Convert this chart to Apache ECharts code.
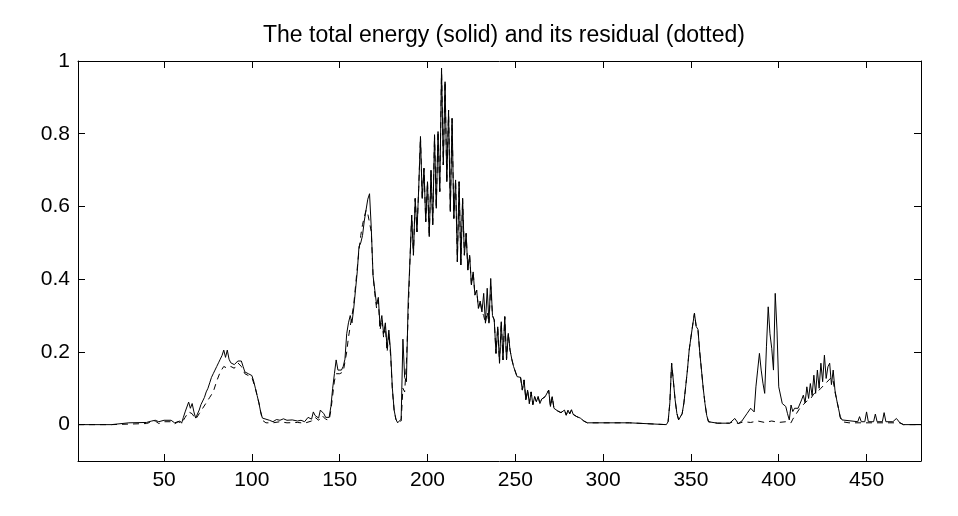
<!DOCTYPE html>
<html>
<head>
<meta charset="utf-8">
<script src="https://cdn.jsdelivr.net/npm/echarts@6/dist/echarts.min.js"></script>
<style>
  html, body { margin: 0; padding: 0; background: #fff; }
  #main { width: 958px; height: 516px; }
</style>
</head>
<body>
<div id="main"></div>
<script>
var totalX = [
  1, 20, 21, 30, 40, 43, 45, 47, 50, 54,
  56, 57, 59, 60, 61, 62, 63, 64, 65, 66,
  67, 68, 69, 70, 71, 72, 73, 74, 75, 76,
  77, 78, 79, 80, 81, 82, 83, 84, 85, 86,
  87, 88, 89, 90, 91, 92, 93, 94, 95, 96,
  97, 98, 99, 100, 101, 102, 103, 104, 105, 106,
  107, 110, 112, 114, 116, 118, 120, 123, 126, 128,
  130, 132, 134, 135, 136, 137, 138, 139, 140, 141,
  142, 143, 144, 145, 146, 147, 148, 149, 150, 151,
  152, 153, 154, 155, 156, 157, 158, 159, 160, 161,
  162, 163, 164, 165, 166, 167, 168, 169, 170, 171,
  172, 173, 174, 175, 176, 177, 178, 179, 180, 181,
  182, 183, 184, 185, 186, 187, 188, 189, 190, 191,
  192, 193, 194, 195, 196, 197, 198, 199, 200, 201,
  202, 203, 204, 205, 206, 207, 208, 209, 210, 211,
  212, 213, 214, 215, 216, 217, 218, 219, 220, 221,
  222, 223, 224, 225, 226, 227, 228, 229, 230, 231,
  232, 233, 234, 235, 236, 237, 238, 239, 240, 241,
  242, 243, 244, 245, 246, 247, 248, 249, 250, 251,
  252, 253, 254, 255, 256, 257, 258, 259, 260, 261,
  262, 263, 264, 265, 266, 267, 268, 269, 270, 271,
  272, 273, 274, 275, 276, 277, 278, 279, 280, 281,
  282, 283, 284, 285, 286, 287, 288, 289, 290, 291,
  315, 316, 336, 337, 338, 339, 340, 341, 342, 343,
  344, 345, 346, 347, 348, 349, 350, 351, 352, 353,
  354, 355, 356, 357, 358, 359, 360, 365, 372, 375,
  377, 379, 382, 384, 385, 386, 387, 388, 389, 390,
  391, 392, 393, 394, 395, 396, 397, 398, 399, 400,
  401, 402, 403, 404, 405, 406, 407, 408, 409, 410,
  411, 412, 413, 414, 415, 416, 417, 418, 419, 420,
  421, 422, 423, 424, 425, 426, 427, 428, 429, 430,
  431, 432, 433, 434, 435, 436, 437, 445, 446, 447,
  449, 450, 451, 454, 455, 456, 459, 460, 461, 465,
  467, 469, 471, 481
];
var totalY = [
  0, 0, 0.005, 0.005, 0.006, 0.01, 0.012, 0.008, 0.012, 0.012,
  0.005, 0.01, 0.01, 0.004, 0.02, 0.035, 0.04, 0.062, 0.045, 0.058,
  0.035, 0.018, 0.015, 0.04, 0.055, 0.06, 0.075, 0.09, 0.1, 0.115,
  0.13, 0.14, 0.15, 0.16, 0.17, 0.18, 0.19, 0.205, 0.185, 0.205,
  0.18, 0.17, 0.175, 0.165, 0.17, 0.175, 0.18, 0.175, 0.16, 0.145,
  0.15, 0.14, 0.14, 0.135, 0.12, 0.1, 0.08, 0.06, 0.035, 0.018,
  0.014, 0.012, 0.008, 0.014, 0.012, 0.016, 0.012, 0.013, 0.01, 0.012,
  0.008, 0.02, 0.015, 0.035, 0.025, 0.03, 0.018, 0.04, 0.035, 0.03,
  0.02, 0.015, 0.02, 0.05, 0.1, 0.14, 0.178, 0.15, 0.15, 0.15,
  0.16, 0.18, 0.25, 0.28, 0.3, 0.28, 0.32, 0.37, 0.42, 0.49,
  0.5, 0.52, 0.56, 0.59, 0.62, 0.635, 0.54, 0.41, 0.37, 0.33,
  0.35, 0.27, 0.3, 0.25, 0.28, 0.21, 0.26, 0.2, 0.1, 0.04,
  0.015, 0.005, 0.003, 0.015, 0.235, 0.13, 0.118, 0.34, 0.45, 0.576,
  0.466, 0.622, 0.53, 0.65, 0.792, 0.622, 0.705, 0.558, 0.668, 0.517,
  0.7, 0.549, 0.797, 0.595, 0.806, 0.641, 0.98, 0.714, 0.943, 0.668,
  0.865, 0.586, 0.842, 0.567, 0.673, 0.448, 0.668, 0.439, 0.622, 0.466,
  0.526, 0.425, 0.466, 0.384, 0.42, 0.356, 0.37, 0.32, 0.34, 0.31,
  0.361, 0.279, 0.375, 0.279, 0.402, 0.3, 0.288, 0.196, 0.269, 0.169,
  0.283, 0.178, 0.297, 0.178, 0.251, 0.205, 0.18, 0.16, 0.159, 0.132,
  0.13, 0.13, 0.095, 0.123, 0.068, 0.095, 0.058, 0.09, 0.055, 0.077,
  0.063, 0.077, 0.058, 0.07, 0.065, 0.077, 0.077, 0.095, 0.05, 0.077,
  0.045, 0.04, 0.038, 0.035, 0.033, 0.03, 0.04, 0.026, 0.04, 0.03,
  0.041, 0.028, 0.03, 0.022, 0.025, 0.018, 0.015, 0.01, 0.006, 0.005,
  0.005, 0, 0, 0.008, 0.06, 0.169, 0.12, 0.068, 0.031, 0.013,
  0.017, 0.03, 0.06, 0.104, 0.15, 0.205, 0.24, 0.274, 0.306, 0.27,
  0.262, 0.2, 0.15, 0.1, 0.058, 0.025, 0.008, 0.004, 0.004, 0.017,
  0.003, 0.01, 0.031, 0.045, 0.05, 0.035, 0.104, 0.15, 0.196, 0.15,
  0.114, 0.086, 0.214, 0.324, 0.25, 0.21, 0.15, 0.361, 0.26, 0.104,
  0.1, 0.058, 0.063, 0.05, 0.03, 0.013, 0.054, 0.036, 0.045, 0.04,
  0.045, 0.05, 0.068, 0.081, 0.06, 0.104, 0.072, 0.113, 0.08, 0.136,
  0.086, 0.15, 0.1, 0.169, 0.118, 0.191, 0.127, 0.159, 0.169, 0.11,
  0.15, 0.095, 0.068, 0.045, 0.022, 0.013, 0.008, 0.008, 0.022, 0.008,
  0.008, 0.035, 0.008, 0.008, 0.029, 0.008, 0.008, 0.033, 0.008, 0.008,
  0.017, 0.005, 0, 0
];

var residualX = [
  1, 20, 21, 40, 43, 45, 47, 50, 54, 56,
  58, 60, 62, 64, 66, 68, 70, 72, 74, 76,
  78, 80, 82, 84, 86, 88, 90, 92, 94, 96,
  98, 100, 102, 104, 106, 108, 112, 116, 120, 126,
  130, 134, 136, 138, 140, 142, 144, 145, 146, 147,
  148, 150, 152, 153, 154, 155, 156, 157, 158, 159,
  160, 161, 162, 163, 164, 165, 166, 167, 168, 169,
  170, 171, 172, 173, 174, 175, 176, 177, 178, 179,
  180, 181, 182, 183, 184, 185, 186, 187, 188, 189,
  190, 191, 192, 193, 194, 195, 196, 197, 198, 199,
  200, 201, 202, 203, 204, 205, 206, 207, 208, 209,
  210, 211, 212, 213, 214, 215, 216, 217, 218, 219,
  220, 221, 222, 223, 224, 225, 226, 227, 228, 229,
  230, 231, 232, 233, 234, 235, 236, 237, 238, 239,
  240, 241, 242, 243, 244, 245, 246, 247, 248, 249,
  250, 251, 252, 253, 254, 255, 256, 257, 258, 259,
  260, 261, 262, 263, 264, 265, 266, 267, 268, 269,
  270, 271, 272, 273, 274, 275, 276, 277, 278, 279,
  280, 281, 282, 283, 284, 285, 286, 287, 288, 289,
  290, 291, 315, 316, 336, 337, 338, 339, 340, 341,
  342, 343, 344, 345, 346, 347, 348, 349, 350, 351,
  352, 353, 354, 355, 356, 357, 358, 359, 360, 365,
  372, 374, 377, 380, 384, 388, 392, 396, 400, 404,
  407, 408, 410, 412, 414, 416, 418, 420, 422, 424,
  426, 428, 430, 431, 432, 433, 434, 435, 436, 440,
  469, 471, 481
];
var residualY = [
  0, 0, 0.003, 0.003, 0.008, 0.01, 0.003, 0.008, 0.008, 0.002,
  0.008, 0.004, 0.02, 0.035, 0.03, 0.015, 0.03, 0.045, 0.06, 0.075,
  0.09, 0.12, 0.145, 0.16, 0.155, 0.16, 0.155, 0.17, 0.16, 0.14,
  0.135, 0.13, 0.1, 0.06, 0.012, 0.005, 0.005, 0.008, 0.005, 0.006,
  0.004, 0.01, 0.02, 0.012, 0.025, 0.015, 0.012, 0.04, 0.08, 0.12,
  0.14, 0.14, 0.145, 0.15, 0.2, 0.24, 0.27, 0.3, 0.33, 0.38,
  0.43, 0.48, 0.52, 0.55, 0.57, 0.59, 0.58, 0.58, 0.53, 0.41,
  0.36, 0.32, 0.34, 0.26, 0.29, 0.24, 0.27, 0.2, 0.25, 0.19,
  0.095, 0.04, 0.015, 0.005, 0.003, 0.01, 0.1, 0.09, 0.17, 0.3,
  0.45, 0.576, 0.466, 0.622, 0.53, 0.65, 0.792, 0.622, 0.705, 0.558,
  0.668, 0.517, 0.7, 0.549, 0.797, 0.595, 0.806, 0.641, 0.98, 0.714,
  0.943, 0.668, 0.865, 0.586, 0.842, 0.567, 0.673, 0.448, 0.668, 0.439,
  0.622, 0.466, 0.526, 0.425, 0.466, 0.384, 0.42, 0.356, 0.37, 0.32,
  0.34, 0.31, 0.3, 0.279, 0.31, 0.279, 0.38, 0.3, 0.288, 0.196,
  0.269, 0.169, 0.283, 0.178, 0.297, 0.178, 0.251, 0.205, 0.18, 0.16,
  0.159, 0.132, 0.13, 0.13, 0.095, 0.123, 0.068, 0.095, 0.058, 0.09,
  0.055, 0.077, 0.063, 0.077, 0.058, 0.07, 0.065, 0.077, 0.077, 0.095,
  0.05, 0.077, 0.045, 0.04, 0.038, 0.035, 0.033, 0.03, 0.04, 0.026,
  0.04, 0.03, 0.041, 0.028, 0.03, 0.022, 0.025, 0.018, 0.015, 0.01,
  0.006, 0.005, 0.005, 0, 0, 0.008, 0.06, 0.169, 0.12, 0.068,
  0.031, 0.013, 0.017, 0.03, 0.06, 0.104, 0.15, 0.205, 0.24, 0.274,
  0.306, 0.27, 0.262, 0.2, 0.15, 0.1, 0.058, 0.025, 0.008, 0.004,
  0.004, 0.008, 0.003, 0.008, 0.006, 0.01, 0.006, 0.01, 0.006, 0.008,
  0.005, 0.015, 0.03, 0.045, 0.055, 0.065, 0.07, 0.085, 0.09, 0.1,
  0.11, 0.12, 0.13, 0.12, 0.09, 0.068, 0.045, 0.02, 0.008, 0.005,
  0.005, 0, 0
];

var xTicks = [50, 100, 150, 200, 250, 300, 350, 400, 450];
var yTicks = [0, 0.2, 0.4, 0.6, 0.8, 1];
var yTickLabels = ['0', '0.2', '0.4', '0.6', '0.8', '1'];

if (totalX.length !== totalY.length || residualX.length !== residualY.length) {
  throw new Error('length mismatch ' + totalX.length + '/' + totalY.length + ' ' + residualX.length + '/' + residualY.length);
}

function pairs(xs, ys) {
  var out = [];
  for (var i = 0; i < xs.length; i++) {
    out.push([xs[i], ys[i]]);
  }
  return out;
}

var fontFamily = 'Liberation Sans, Arial, Helvetica, sans-serif';
var frameLine = { show: true, onZero: false, lineStyle: { color: '#000', width: 1 } };

function xAxisOpt(pos, withLabels) {
  return {
    type: 'value',
    position: pos,
    min: 1,
    max: 481,
    axisLine: frameLine,
    axisTick: { show: true, inside: true, length: 7, customValues: xTicks, lineStyle: { color: '#000' } },
    axisLabel: {
      show: withLabels,
      customValues: xTicks,
      color: '#000',
      fontSize: 21,
      fontFamily: fontFamily,
      margin: 9
    },
    splitLine: { show: false }
  };
}

function yAxisOpt(pos, withLabels) {
  return {
    type: 'value',
    position: pos,
    min: -0.1,
    max: 1,
    axisLine: frameLine,
    axisTick: { show: true, inside: true, length: 7, customValues: yTicks, lineStyle: { color: '#000' } },
    axisLabel: {
      show: withLabels,
      customValues: yTicks,
      color: '#000',
      fontSize: 21,
      fontFamily: fontFamily,
      margin: 8,
      formatter: function (v) {
        var k = yTicks.indexOf(+(+v).toFixed(1));
        return k >= 0 ? yTickLabels[k] : '';
      }
    },
    splitLine: { show: false }
  };
}

var chart = echarts.init(document.getElementById('main'), null, { renderer: 'canvas' });
chart.setOption({
  backgroundColor: '#fff',
  animation: false,
  title: {
    text: 'The total energy (solid) and its residual (dotted)',
    left: 499,
    top: 19,
    textAlign: 'center',
    textStyle: { color: '#000', fontWeight: 'normal', fontSize: 23, fontFamily: fontFamily }
  },
  grid: { left: 78, right: 37, top: 61, bottom: 55 },
  xAxis: [xAxisOpt('bottom', true), xAxisOpt('top', false)],
  yAxis: [yAxisOpt('left', true), yAxisOpt('right', false)],
  series: [
    {
      name: 'residual',
      type: 'line',
      data: pairs(residualX, residualY),
      showSymbol: false,
      symbol: 'none',
      lineStyle: { color: '#000', width: 1, type: [6, 5] }
    },
    {
      name: 'total',
      type: 'line',
      data: pairs(totalX, totalY),
      showSymbol: false,
      symbol: 'none',
      lineStyle: { color: '#000', width: 1 }
    }
  ]
});
</script>
</body>
</html>
